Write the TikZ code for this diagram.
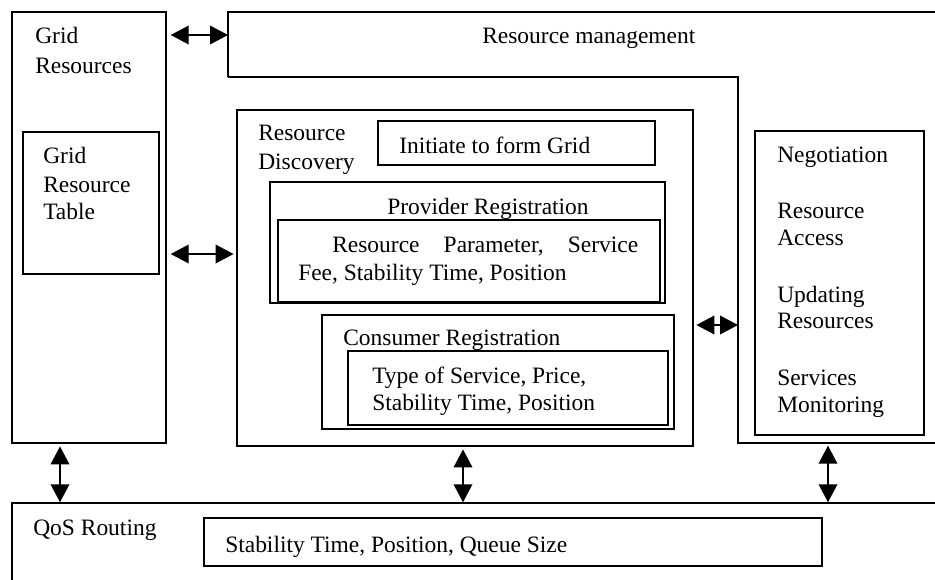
\documentclass[tikz,border=0pt]{standalone}
\usepackage{fontspec}
\setmainfont{Liberation Serif}
\usetikzlibrary{arrows.meta,fit}
\begin{document}
\begin{tikzpicture}[x=0.75pt,y=-0.75pt,
  box/.style={draw, line width=1.1pt, inner sep=0pt},
  lbl/.style={anchor=base west, inner sep=0pt, font=\fontsize{17.6pt}{20pt}\selectfont},
  link/.style={line width=1.1pt, {Triangle[length=13.5pt,width=14pt]}-{Triangle[length=13.5pt,width=14pt]}},
  frame/.style={line width=1.1pt}]
\useasboundingbox (0,0) rectangle (935,579);
\clip (0,0) rectangle (935,579);
% boxes
\node[box, fit={(12,12) (166,443)}] (gr) {};
\node[box, fit={(23,132) (159,274)}] (grt) {};
\node[box, fit={(237,110) (693,446)}] (rd) {};
\node[box, fit={(378,121) (655,165)}] (init) {};
\node[box, fit={(270,182) (665,303)}] (prov) {};
\node[box, fit={(278,220) (660,302)}] (provin) {};
\node[box, fit={(322,315) (674,429)}] (cons) {};
\node[box, fit={(348,351) (668,425)}] (consin) {};
\node[box, fit={(755,131) (924,435)}] (neg) {};
\node[box, fit={(12,503) (950,600)}] (qos) {};
\node[box, fit={(204,518) (822,566)}] (qosin) {};
% resource management outline
\draw[frame] (228,77) -- (228,12) -- (950,12);
\draw[frame] (228,77) -- (738,77) -- (738,443) -- (950,443);
\coordinate (rmL) at (228,35);
\coordinate (rmR) at (738,325);
\coordinate (rmB) at (828,443);
% texts
\node[lbl] (t1) at (35,43) {Grid};
\node[lbl] (t2) at (35,73) {Resources};
\node[lbl] (t3) at (43,163) {Grid};
\node[lbl] (t4) at (43,192) {Resource};
\node[lbl] (t5) at (43,219) {Table};
\node[lbl] (t6) at (482,43) {Resource management};
\node[lbl] (t7) at (258,140) {Resource};
\node[lbl] (t8) at (258,169) {Discovery};
\node[lbl] (t9) at (399,153) {Initiate to form Grid};
\node[lbl] (t10) at (387,214) {Provider Registration};
\node[lbl] (t11) at (332,252) {\makebox[229.5pt][s]{Resource\hfill Parameter,\hfill Service}};
\node[lbl] (t12) at (298,280) {Fee, Stability Time, Position};
\node[lbl] (t13) at (343,345) {Consumer Registration};
\node[lbl] (t14) at (372,383) {Type of Service, Price,};
\node[lbl] (t15) at (372,410) {Stability Time, Position};
\node[lbl] (t16) at (777,162) {Negotiation};
\node[lbl] (t17) at (777,218) {Resource};
\node[lbl] (t18) at (777,245) {Access};
\node[lbl] (t19) at (777,302) {Updating};
\node[lbl] (t20) at (777,328) {Resources};
\node[lbl] (t21) at (777,385) {Services};
\node[lbl] (t22) at (777,412) {Monitoring};
\node[lbl] (t23) at (33,535) {QoS Routing};
\node[lbl] (t24) at (225,552) {Stability Time, Position, Queue Size};
% connectors
\draw[link, shorten <=3pt] (gr.east |- rmL) -- (rmL);
\draw[link, shorten <=3pt, shorten >=2pt] (gr.east |- 0,254) -- (rd.west |- 0,254);
\draw[link, shorten <=2pt] (rd.east |- rmR) -- (rmR);
\draw[link, shorten <=2pt] (gr.south -| 60,0) -- (qos.north -| 60,0);
\draw[link, shorten <=2pt] (rd.south -| 463,0) -- (qos.north -| 463,0);
\draw[link, shorten <=2pt] (rmB) -- (qos.north -| rmB);
\end{tikzpicture}
\end{document}
